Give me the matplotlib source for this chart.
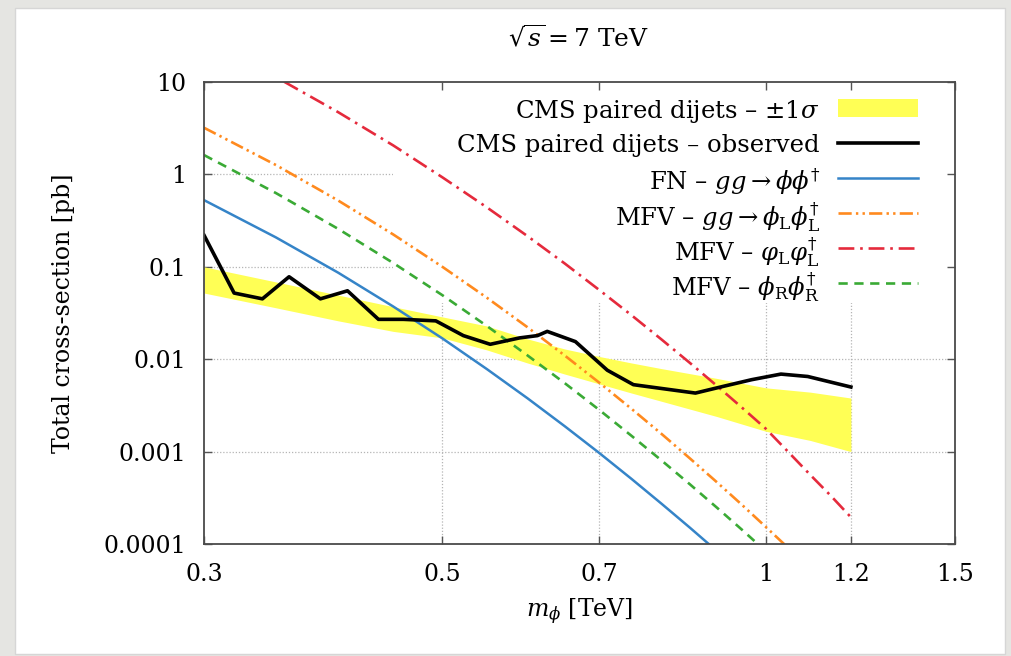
import numpy as np
import matplotlib
matplotlib.use("Agg")
import matplotlib.pyplot as plt
from matplotlib.patches import Rectangle

plt.rcParams['font.family'] = 'DejaVu Serif'
plt.rcParams['mathtext.fontset'] = 'dejavuserif'

# CMS paired dijet limit: +-1 sigma band (pb)
band_mass = [0.30, 0.35, 0.40, 0.45, 0.50, 0.55, 0.60, 0.65, 0.70, 0.75,
             0.80, 0.90, 1.00, 1.10, 1.20]
band_hi = [0.100, 0.0686, 0.0494, 0.037, 0.0287, 0.0229, 0.0166, 0.0129,
           0.0107, 0.0091, 0.0079, 0.0062, 0.0049, 0.0044, 0.0038]
band_lo = [0.052, 0.036, 0.026, 0.020, 0.017, 0.0126, 0.0091, 0.0069,
           0.0054, 0.0043, 0.0035, 0.0024, 0.00166, 0.00132, 0.0010]

# CMS paired dijet limit: observed (pb)
obs_mass = [0.300, 0.320, 0.340, 0.360, 0.385, 0.408, 0.436, 0.460, 0.493,
            0.523, 0.554, 0.590, 0.613, 0.626, 0.665, 0.712, 0.753, 0.860,
            0.914, 0.970, 1.033, 1.094, 1.200]
obs_xsec = [0.22, 0.052, 0.045, 0.078, 0.045, 0.055, 0.027, 0.027, 0.026,
            0.018, 0.0145, 0.017, 0.018, 0.020, 0.0155, 0.0076, 0.0053,
            0.0043, 0.0051, 0.0060, 0.0069, 0.0065, 0.0050]

# theory predictions (pb), None = off the plot
th_mass = [0.30, 0.35, 0.40, 0.45, 0.50, 0.55, 0.60, 0.65, 0.70, 0.75,
           0.80, 0.85, 0.90, 0.95, 1.00, 1.05, 1.10, 1.15, 1.20]
fn_xsec = [0.527, 0.208, 0.0863, 0.0372, 0.0168, 0.00782, 0.00378, 0.00188,
           0.000964, 0.000506, 0.000272, 0.00015, 0.0000843,
           None, None, None, None, None, None]
mfv_gg = [3.20, 1.263, 0.521, 0.224, 0.100, 0.0463, 0.0222, 0.01095,
          0.00556, 0.0029, 0.00155, 0.000843, 0.000469, 0.000266, 0.000153,
          0.0000899, None, None, None]
mfv_vphi = [28.5, 11.3, 4.71, 2.06, 0.93, 0.44, 0.215, 0.1085, 0.056,
            0.0299, 0.0163, 0.0091, 0.00518, 0.0030, 0.00177, 0.000984,
            0.00056, 0.000331, 0.000195]
mfv_r = [1.62, 0.628, 0.257, 0.110, 0.0493, 0.0229, 0.0110, 0.0055,
         0.00282, 0.00148, 0.0008, 0.000442, 0.000249, 0.000143, 0.0000834,
         None, None, None, None]

xticks = [0.3, 0.5, 0.7, 1.0, 1.2, 1.5]
xtick_labels = ['0.3', '0.5', '0.7', '1', '1.2', '1.5']
yticks = [1e-4, 1e-3, 1e-2, 1e-1, 1, 10]
ytick_labels = ['0.0001', '0.001', '0.01', '0.1', '1', '10']

labels = [r'CMS paired dijets – $\pm1\sigma$',
          r'CMS paired dijets – observed',
          r'FN – $gg \rightarrow \phi\phi^{\dagger}$',
          r'MFV – $gg \rightarrow \phi_{\rm L}\phi_{\rm L}^{\dagger}$',
          r'MFV – $\varphi_{\rm L}\varphi_{\rm L}^{\dagger}$',
          r'MFV – $\phi_{\rm R}\phi_{\rm R}^{\dagger}$']

c_band = '#ffff55'
c_blue = '#3584c8'
c_orange = '#ff8a1e'
c_red = '#e52a3c'
c_green = '#3aaa35'

ls_orange = (0, (5, 1.6, 0.9, 1.6, 0.9, 1.6))
ls_red = (0, (6, 2.2, 1, 2.2))
ls_green = (0, (3.5, 2.5))

# line style of each key entry (None = band swatch)
key_styles = [None,
              dict(color='black', lw=2.6),
              dict(color=c_blue, lw=1.8),
              dict(color=c_orange, lw=1.9, ls=ls_orange),
              dict(color=c_red, lw=1.9, ls=ls_red),
              dict(color=c_green, lw=1.9, ls=ls_green)]


def pairs(m, v):
    m = [a for a, b in zip(m, v) if b is not None]
    v = [b for b in v if b is not None]
    return m, v


fig = plt.figure(figsize=(10.11, 6.56), dpi=100)
fig.patch.set_facecolor('#e5e5e2')
fig.add_artist(Rectangle((15 / 1011, 2 / 656), 990 / 1011, 646 / 656,
                         transform=fig.transFigure, facecolor='white',
                         edgecolor='#d6d6d6', lw=1, zorder=-1))

ax = fig.add_axes([204 / 1011, 1 - 544 / 656, 751 / 1011, 462 / 656])
ax.set_xscale('log')
ax.set_yscale('log')
ax.set_xlim(0.3, 1.5)
ax.set_ylim(1e-4, 10)

# dotted grid
for v in xticks[1:-1]:
    ax.axvline(v, color='#b5b5b5', ls=(0, (1, 1.5)), lw=0.9, zorder=0.6)
for v in yticks[1:-1]:
    ax.axhline(v, color='#b5b5b5', ls=(0, (1, 1.5)), lw=0.9, zorder=0.6)

# key area is opaque over the grid
ax.add_patch(Rectangle((0.252, 0.522), 0.748, 0.478, transform=ax.transAxes,
                       facecolor='white', edgecolor='none', zorder=1))

ax.fill_between(band_mass, band_lo, band_hi, color=c_band, lw=0, zorder=2)
ax.plot(obs_mass, obs_xsec, color='black', lw=2.6, zorder=4,
        solid_joinstyle='round')
ax.plot(*pairs(th_mass, fn_xsec), color=c_blue, lw=1.8, zorder=3)
ax.plot(*pairs(th_mass, mfv_gg), color=c_orange, lw=1.9, ls=ls_orange, zorder=3)
ax.plot(*pairs(th_mass, mfv_vphi), color=c_red, lw=1.9, ls=ls_red, zorder=3)
ax.plot(*pairs(th_mass, mfv_r), color=c_green, lw=1.9, ls=ls_green, zorder=3)

ax.set_xticks(xticks, xtick_labels)
ax.set_yticks(yticks, ytick_labels)
ax.minorticks_off()
ax.tick_params(which='both', direction='in', top=True, right=True,
               length=6, width=1.0, color='#555555', labelsize=17)
ax.tick_params(axis='x', pad=14)
ax.tick_params(axis='y', pad=13)
for s in ax.spines.values():
    s.set_color('#4a4a4a')
    s.set_linewidth(1.3)
    s.set_zorder(5)

ax.set_xlabel(r'$m_{\phi}$ [TeV]', fontsize=17, labelpad=7)
ax.set_ylabel('Total cross-section [pb]', fontsize=17, labelpad=20)
fig.text(579 / 1011, 1 - 38 / 656, r'$\sqrt{s} = 7$ TeV', fontsize=18,
         ha='center', va='center')

# key: right-aligned labels with samples on the right
key_top = 0.9437
key_step = 0.0758
text_x = 0.820
samp_x0, samp_x1 = 0.844, 0.951
for i, (lab, st) in enumerate(zip(labels, key_styles)):
    y = key_top - i * key_step
    ax.text(text_x, y, lab, transform=ax.transAxes, ha='right',
            va='center_baseline', fontsize=17.5, zorder=6)
    if st is None:
        ax.add_patch(Rectangle((samp_x0, y - 0.02), samp_x1 - samp_x0, 0.04,
                               transform=ax.transAxes, facecolor=c_band,
                               edgecolor='none', zorder=6))
    else:
        ax.plot([samp_x0, samp_x1], [y, y], transform=ax.transAxes,
                zorder=6, **st)

fig.savefig('out.png', dpi=100, facecolor=fig.get_facecolor())
